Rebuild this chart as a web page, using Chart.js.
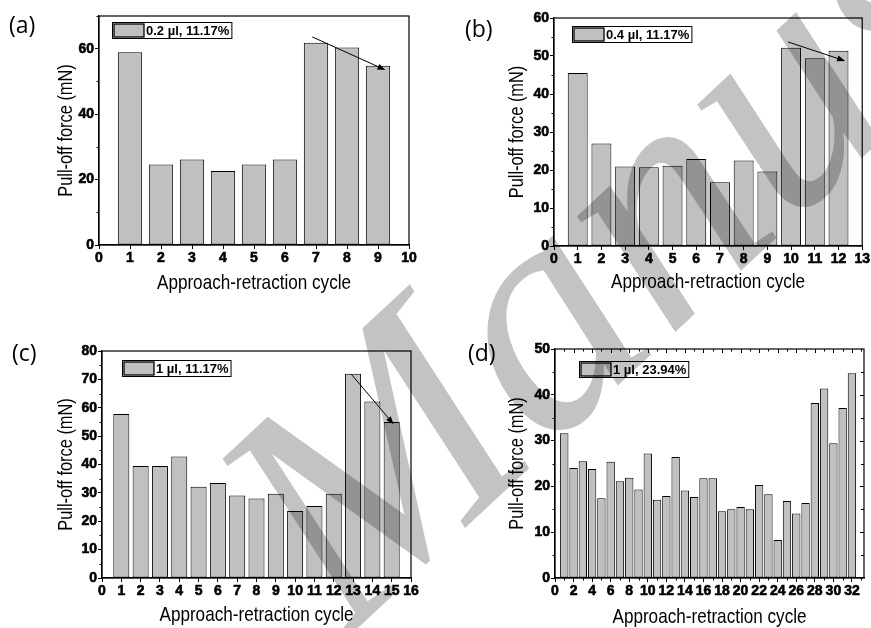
<!DOCTYPE html>
<html>
<head>
<meta charset="utf-8">
<script src="https://cdn.jsdelivr.net/npm/chart.js@4.4.1/dist/chart.umd.min.js"></script>
<style>
  html, body { margin: 0; padding: 0; background: #fff; }
  #wrap { position: relative; width: 871px; height: 628px; overflow: hidden; background: #fff; }
  #wrap canvas { position: absolute; left: 0; top: 0; }
  #wm { mix-blend-mode: multiply; pointer-events: none; }
</style>
</head>
<body>
<div id="wrap">
  <canvas id="pa" width="871" height="628"></canvas>
  <canvas id="pb" width="871" height="628"></canvas>
  <canvas id="pc" width="871" height="628"></canvas>
  <canvas id="pd" width="871" height="628"></canvas>
  <canvas id="wm" width="871" height="628"></canvas>
</div>
<script>
// --- data ---
const cyclesA = [1, 2, 3, 4, 5, 6, 7, 8, 9];
const forceA = [58.9, 24.6, 26.1, 22.6, 24.6, 26.1, 61.8, 60.4, 54.8];

const cyclesB = [1, 2, 3, 4, 5, 6, 7, 8, 9, 10, 11, 12];
const forceB = [45.5, 27.0, 20.9, 20.7, 21.1, 22.9, 16.8, 22.5, 19.6, 52.2, 49.4, 51.4];

const cyclesC = [1, 2, 3, 4, 5, 6, 7, 8, 9, 10, 11, 12, 13, 14, 15];
const forceC = [57.8, 39.5, 39.5, 42.8, 32.2, 33.5, 29.1, 28.0, 29.7, 23.6, 25.4, 29.7, 72.0, 62.2, 55.0];

const cyclesD = [1, 2, 3, 4, 5, 6, 7, 8, 9, 10, 11, 12, 13, 14, 15, 16,
                 17, 18, 19, 20, 21, 22, 23, 24, 25, 26, 27, 28, 29, 30, 31, 32];
const forceD = [31.6, 24.0, 25.5, 23.8, 17.4, 25.4, 21.1, 21.9, 19.3, 27.2, 17.1, 17.9, 26.4, 19.1, 17.7, 21.8,
                21.8, 14.6, 15.0, 15.5, 15.0, 20.3, 18.3, 8.3, 16.8, 14.1, 16.4, 38.2, 41.4, 29.4, 37.1, 44.7];

const legendLabels = ['0.2 µl, 11.17%', '0.4 µl, 11.17%', '1 µl, 11.17%', '1 µl, 23.94%'];

// trend arrows in data units: [x0, y0, x1, y1]
const arrowA = [6.88, 63.6, 9.24, 53.5];
const arrowB = [9.87, 53.7, 12.28, 48.7];
const arrowC = [12.91, 71.8, 15.1, 54.2];

const X_TITLE = 'Approach-retraction cycle';
const Y_TITLE = 'Pull-off force (mN)';

// --- look ---
const W = 871, H = 628;
const Y_AXIS_W = 60, X_AXIS_H = 55;
const BAR_FILL = '#c0c0c0';
const TICK_FONT = { family: 'Arial, "Liberation Sans", sans-serif', size: 14, weight: 700 };
const TITLE_CSS = '21px Arial, "Liberation Sans", sans-serif';

// frame, minor ticks, axis titles, legend box, arrow, panel tag
const framePlugin = {
  id: 'frame',
  afterDatasetsDraw(chart, args, o) {
    const { ctx, chartArea: a, scales: { x, y } } = chart;
    ctx.save();
    ctx.strokeStyle = '#000';
    ctx.lineWidth = 1.2;
    ctx.strokeRect(a.left, a.top, a.right - a.left, a.bottom - a.top);

    // minor ticks (outside), plus mirrored ticks for panel d
    ctx.lineWidth = 1;
    ctx.beginPath();
    for (let v = o.yStep / 2; v <= o.yMax + 1e-6; v += o.yStep) {
      const py = Math.round(y.getPixelForValue(v)) + 0.5;
      ctx.moveTo(a.left, py); ctx.lineTo(a.left - 2.5, py);
      if (o.mirror) { ctx.moveTo(a.right, py); ctx.lineTo(a.right - 3, py); }
    }
    if (o.mirror) {
      for (let v = o.yStep; v < o.yMax; v += o.yStep) {
        const py = Math.round(y.getPixelForValue(v)) + 0.5;
        ctx.moveTo(a.right, py); ctx.lineTo(a.right - 4, py);
      }
    }
    if (o.xMinor) {
      for (let v = o.xMinor; v < o.xMax; v += o.xMinor * 2) {
        const px = Math.round(x.getPixelForValue(v)) + 0.5;
        ctx.moveTo(px, a.bottom); ctx.lineTo(px, a.bottom + 2.5);
      }
    }
    if (o.mirror) {
      for (let v = 1; v < o.xMax; v += 1) {
        const px = Math.round(x.getPixelForValue(v)) + 0.5;
        ctx.moveTo(px, a.top); ctx.lineTo(px, a.top + (v % 2 ? 2.5 : 4));
      }
    }
    ctx.stroke();

    // trend arrow
    if (o.arrow) {
      const [x0, y0, x1, y1] = o.arrow;
      const p0 = [x.getPixelForValue(x0), y.getPixelForValue(y0)];
      const p1 = [x.getPixelForValue(x1), y.getPixelForValue(y1)];
      const ang = Math.atan2(p1[1] - p0[1], p1[0] - p0[0]);
      ctx.beginPath();
      ctx.moveTo(p0[0], p0[1]);
      ctx.lineTo(p1[0] - 6 * Math.cos(ang), p1[1] - 6 * Math.sin(ang));
      ctx.stroke();
      ctx.beginPath();
      ctx.moveTo(p1[0], p1[1]);
      ctx.lineTo(p1[0] - 8 * Math.cos(ang) + 3 * Math.sin(ang), p1[1] - 8 * Math.sin(ang) - 3 * Math.cos(ang));
      ctx.lineTo(p1[0] - 8 * Math.cos(ang) - 3 * Math.sin(ang), p1[1] - 8 * Math.sin(ang) + 3 * Math.cos(ang));
      ctx.closePath();
      ctx.fillStyle = '#000';
      ctx.fill();
    }

    // legend box
    const label = chart.data.datasets[0].label;
    ctx.font = 'bold 13px Arial, "Liberation Sans", sans-serif';
    const tw = ctx.measureText(label).width;
    const lx = a.left + o.legend[0], ly = a.top + o.legend[1], lh = 16;
    ctx.fillStyle = '#fff';
    ctx.fillRect(lx, ly, 36 + tw, lh);
    ctx.strokeStyle = '#000';
    ctx.lineWidth = 1;
    ctx.strokeRect(lx + 0.5, ly + 0.5, 36 + tw, lh);
    ctx.fillStyle = BAR_FILL;
    ctx.fillRect(lx + 2, ly + 2, 30, lh - 3);
    ctx.lineWidth = 1.3;
    ctx.strokeRect(lx + 2, ly + 2, 30, lh - 3);
    ctx.fillStyle = '#000';
    ctx.textBaseline = 'middle';
    ctx.fillText(label, lx + 34, ly + lh / 2 + 1);

    // axis titles, condensed like the original narrow face
    ctx.font = TITLE_CSS;
    ctx.textAlign = 'center';
    ctx.textBaseline = 'alphabetic';
    ctx.save();
    ctx.translate((a.left + a.right) / 2, o.xTitleBase);
    ctx.scale(0.815, 1);
    ctx.fillText(X_TITLE, 0, 0);
    ctx.restore();
    ctx.save();
    ctx.translate(o.yTitleBase, (a.top + a.bottom) / 2);
    ctx.rotate(-Math.PI / 2);
    ctx.scale(0.78, 1);
    ctx.fillText(Y_TITLE, 0, 0);
    ctx.restore();

    // panel tag
    ctx.textAlign = 'left';
    ctx.textBaseline = 'middle';
    ctx.font = '23px "Open Sans", Lato, sans-serif';
    ctx.fillText(o.tag, o.tagPos[0], o.tagPos[1]);
    ctx.restore();
  }
};

function panel(id, cycles, force, cfg) {
  const a = cfg.area;
  const tickOpts = {
    padding: 1, color: '#000', font: TICK_FONT,
    textStrokeColor: '#000', textStrokeWidth: 0.6,
  };
  return new Chart(document.getElementById(id), {
    type: 'bar',
    data: {
      datasets: [{
        label: cfg.label,
        data: cycles.map((c, i) => ({ x: c, y: force[i] })),
        backgroundColor: BAR_FILL,
        borderColor: '#000',
        borderWidth: 1,
        borderSkipped: false,
        barPercentage: cfg.barPct,
        categoryPercentage: 1,
      }],
    },
    options: {
      responsive: false,
      animation: false,
      events: [],
      layout: {
        padding: {
          left: a.left - Y_AXIS_W,
          right: W - a.right,
          top: a.top,
          bottom: H - a.bottom - X_AXIS_H,
        },
      },
      plugins: {
        legend: { display: false },
        tooltip: { enabled: false },
        frame: {
          yStep: cfg.yStep, yMax: cfg.yMax, xMax: cfg.xMax, xMinor: cfg.xMinor,
          mirror: cfg.mirror, arrow: cfg.arrow, legend: cfg.legendPos,
          tag: cfg.tag, tagPos: cfg.tagPos,
          xTitleBase: cfg.xTitleBase, yTitleBase: cfg.yTitleBase,
        },
      },
      scales: {
        x: {
          type: 'linear',
          min: 0,
          max: cfg.xMax,
          offset: false,
          grid: { offset: false, drawOnChartArea: false, drawTicks: true, tickLength: 4, color: '#000', lineWidth: 1 },
          border: { display: true, color: '#000', width: 1.2 },
          ticks: { ...tickOpts, stepSize: cfg.xStep, includeBounds: false, autoSkip: false, maxRotation: 0 },
          afterFit: (s) => { s.height = X_AXIS_H; },
        },
        y: {
          min: 0,
          max: cfg.yMax,
          grid: { drawOnChartArea: false, drawTicks: true, tickLength: 4, color: '#000', lineWidth: 1 },
          border: { display: true, color: '#000', width: 1.2 },
          ticks: { ...tickOpts, stepSize: cfg.yStep, includeBounds: false },
          afterFit: (s) => { s.width = Y_AXIS_W; },
        },
      },
    },
    plugins: [framePlugin],
  });
}

panel('pa', cyclesA, forceA, {
  label: legendLabels[0], tag: '(a)', tagPos: [9, 26],
  area: { left: 99, right: 409, top: 16, bottom: 245 },
  xMax: 10, xStep: 1, yMax: 70, yStep: 20, barPct: 0.785,
  xTitleBase: 289, yTitleBase: 72, legendPos: [13, 6], arrow: arrowA,
});
panel('pb', cyclesB, forceB, {
  label: legendLabels[1], tag: '(b)', tagPos: [465, 30],
  area: { left: 554, right: 863, top: 18, bottom: 246 },
  xMax: 13, xStep: 1, yMax: 60, yStep: 10, barPct: 0.84,
  xTitleBase: 288, yTitleBase: 523, legendPos: [18, 8], arrow: arrowB,
});
panel('pc', cyclesC, forceC, {
  label: legendLabels[2], tag: '(c)', tagPos: [12, 354],
  area: { left: 102, right: 411, top: 351, bottom: 578 },
  xMax: 16, xStep: 1, yMax: 80, yStep: 10, barPct: 0.83,
  xTitleBase: 621, yTitleBase: 72, legendPos: [20, 9], arrow: arrowC,
});
panel('pd', cyclesD, forceD, {
  label: legendLabels[3], tag: '(d)', tagPos: [468, 354],
  area: { left: 555, right: 864, top: 349, bottom: 578 },
  xMax: 33.3, xStep: 2, xMinor: 1, yMax: 50, yStep: 10, barPct: 0.9, mirror: true,
  xTitleBase: 623, yTitleBase: 523, legendPos: [24, 12],
});

// "Accepted Manuscript" style watermark laid over the figure
const wm = document.getElementById('wm').getContext('2d');
wm.save();
wm.translate(345, 640);
wm.rotate(-43 * Math.PI / 180);
wm.font = 'italic 330px "Liberation Serif", "DejaVu Serif", serif';
wm.fillStyle = '#c3c3c3';
wm.textBaseline = 'alphabetic';
wm.fillText('Manuscript', 0, 0);
wm.restore();
</script>
</body>
</html>
